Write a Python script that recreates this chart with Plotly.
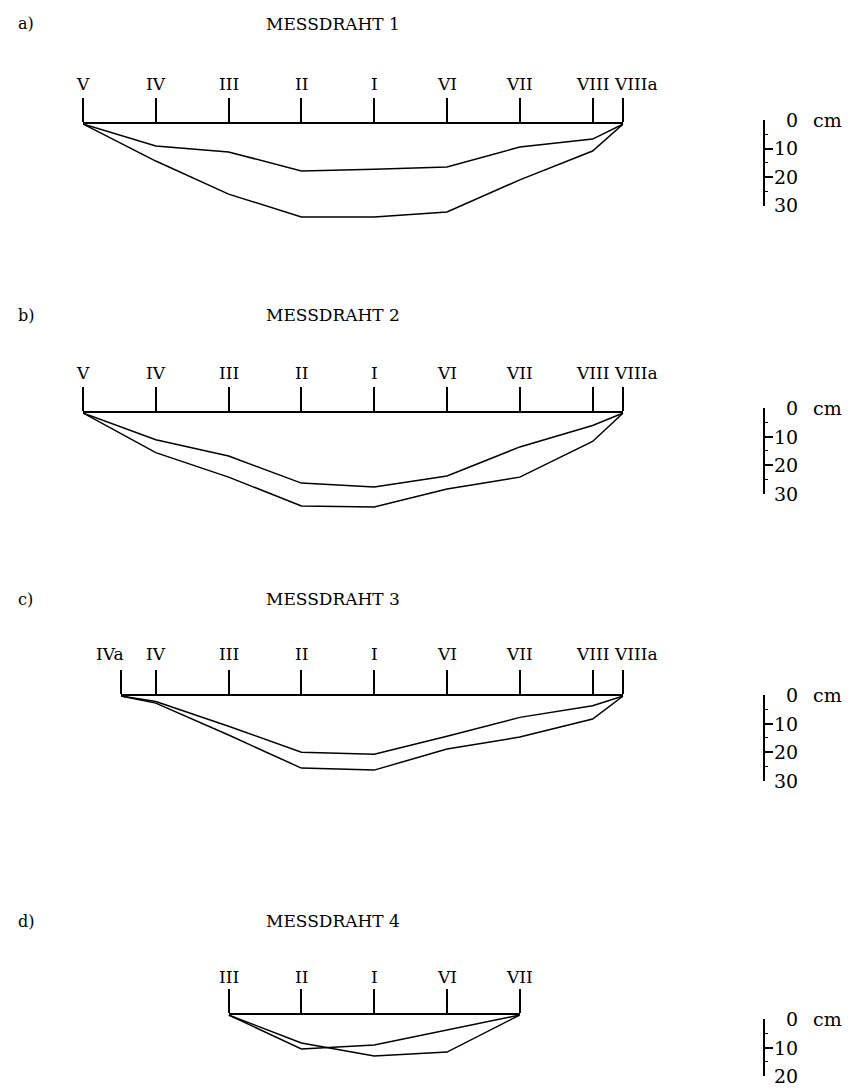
import plotly.graph_objects as go

# ---------------- data ----------------
titles = ["MESSDRAHT 1", "MESSDRAHT 2", "MESSDRAHT 3", "MESSDRAHT 4"]
panel_tags = ["a)", "b)", "c)", "d)"]

stations_a = ["V", "IV", "III", "II", "I", "VI", "VII", "VIII", "VIIIa"]
pos_a = [0, 1, 2, 3, 4, 5, 6, 7, 7.42]
sag_a_1 = [0, 7.7, 9.8, 16.5, 15.9, 15.1, 8.1, 5.3, 0]
sag_a_2 = [0, 13.0, 24.6, 32.6, 32.6, 30.9, 19.6, 9.5, 0]

stations_b = ["V", "IV", "III", "II", "I", "VI", "VII", "VIII", "VIIIa"]
pos_b = [0, 1, 2, 3, 4, 5, 6, 7, 7.42]
sag_b_1 = [0, 9.4, 15.1, 24.6, 26.0, 22.1, 11.9, 4.4, 0]
sag_b_2 = [0, 13.9, 22.5, 32.6, 33.0, 26.7, 22.5, 10.0, 0]

stations_c = ["IVa", "IV", "III", "II", "I", "VI", "VII", "VIII", "VIIIa"]
pos_c = [0.52, 1, 2, 3, 4, 5, 6, 7, 7.42]
sag_c_1 = [0, 1.9, 10.6, 19.7, 20.4, 14.1, 7.5, 3.4, 0]
sag_c_2 = [0, 2.5, 13.7, 25.3, 26.0, 18.6, 14.4, 8.1, 0]

stations_d = ["III", "II", "I", "VI", "VII"]
pos_d = [2, 3, 4, 5, 6]
sag_d_1 = [0, 11.9, 10.5, 5.3, 0]
sag_d_2 = [0, 9.8, 14.4, 13.0, 0]

scale_ticks_abc = [0, 10, 20, 30]
scale_ticks_d = [0, 10, 20]

# ---------------- layout constants ----------------
W, H = 857, 1092
X0 = 75          # px of position 0
SP = 72.8        # px per station unit
PXCM = 2.85      # px per cm of sag
FONT = "DejaVu Serif"
BAR_X = 757

panels = [
    dict(st=stations_a, pos=pos_a, s1=sag_a_1, s2=sag_a_2, wire=116, title=16, lab=76, scale_top=112, ticks=scale_ticks_abc, dmax=36),
    dict(st=stations_b, pos=pos_b, s1=sag_b_1, s2=sag_b_2, wire=405, title=307, lab=365, scale_top=400, ticks=scale_ticks_abc, dmax=36),
    dict(st=stations_c, pos=pos_c, s1=sag_c_1, s2=sag_c_2, wire=688, title=591, lab=646, scale_top=687, ticks=scale_ticks_abc, dmax=30),
    dict(st=stations_d, pos=pos_d, s1=sag_d_1, s2=sag_d_2, wire=1007, title=913, lab=969, scale_top=1011, ticks=scale_ticks_d, dmax=18),
]

fig = go.Figure()
annotations = []
layout = dict(
    width=W, height=H, margin=dict(l=0, r=0, t=0, b=0),
    paper_bgcolor="white", plot_bgcolor="rgba(0,0,0,0)",
    showlegend=False, font=dict(family=FONT, size=16, color="black"),
)

def py(px):
    return 1 - px / H

for k, p in enumerate(panels):
    i = k + 1
    xa = "x" if i == 1 else f"x{i}"
    ya = "y" if i == 1 else f"y{i}"
    xkey = "xaxis" if i == 1 else f"xaxis{i}"
    ykey = "yaxis" if i == 1 else f"yaxis{i}"
    p0, p1 = p["pos"][0], p["pos"][-1]
    for s in (p["s1"], p["s2"]):
        fig.add_trace(go.Scatter(x=p["pos"], y=s, mode="lines", xaxis=xa, yaxis=ya,
                                 line=dict(color="black", width=1.5), hoverinfo="skip",
                                 cliponaxis=False))
    layout[xkey] = dict(domain=[(X0 + p0 * SP) / W, (X0 + p1 * SP) / W], range=[p0, p1],
                        side="top", anchor=ya, showline=True, linecolor="black", linewidth=1.5,
                        ticks="outside", ticklen=24, tickwidth=1.5, tickcolor="black",
                        tickvals=p["pos"], showticklabels=False, showgrid=False,
                        zeroline=False, fixedrange=True)
    layout[ykey] = dict(domain=[py(p["wire"] + p["dmax"] * PXCM), py(p["wire"])],
                        range=[p["dmax"], 0], anchor=xa, visible=False, fixedrange=True)
    # station labels
    for name, x in zip(p["st"], p["pos"]):
        xanchor, xshift = "center", 0
        if name == "VIIIa":
            xanchor, xshift = "left", -11
        if name == "IVa":
            xanchor, xshift = "right", 5
        annotations.append(dict(text=name, x=x, xref=xa, y=py(p["lab"]), yref="paper",
                                xanchor=xanchor, yanchor="middle", xshift=xshift,
                                showarrow=False, font=dict(size=17)))
    # titles
    annotations.append(dict(text=panel_tags[k], x=8 / W, xref="paper", y=py(p["title"]),
                            yref="paper", xanchor="left", yanchor="middle", showarrow=False,
                            font=dict(size=16)))
    annotations.append(dict(text=titles[k], x=256 / W, xref="paper", y=py(p["title"]),
                            yref="paper", xanchor="left", yanchor="middle", showarrow=False,
                            font=dict(size=17)))
    # scale bar axis
    j = i + 4
    sx = f"x{j}"
    sy = f"y{j}"
    smax = p["ticks"][-1]
    fig.add_trace(go.Scatter(x=[0, 0], y=[0, smax], mode="lines", xaxis=sx, yaxis=sy,
                             line=dict(width=0, color="rgba(0,0,0,0)"), hoverinfo="skip"))
    layout[f"xaxis{j}"] = dict(domain=[BAR_X / W, (BAR_X + 40) / W], anchor=sy, visible=False,
                               range=[0, 1], fixedrange=True)
    layout[f"yaxis{j}"] = dict(domain=[py(p["scale_top"] + smax * PXCM), py(p["scale_top"])],
                               range=[smax, 0], anchor=sx, side="left", showline=True,
                               linecolor="black", linewidth=1.5, ticks="inside", ticklen=8,
                               tickwidth=1.5, tickcolor="black", tickvals=p["ticks"],
                               showticklabels=False, showgrid=False, zeroline=False,
                               minor=dict(ticks="inside", ticklen=3, tickwidth=1.3,
                                          tickcolor="black", dtick=5, showgrid=False),
                               fixedrange=True)
    for v in p["ticks"]:
        annotations.append(dict(text=str(v), x=(BAR_X + 35) / W, xref="paper", y=v, yref=sy,
                                xanchor="right", yanchor="middle", showarrow=False,
                                font=dict(size=19)))
    annotations.append(dict(text="cm", x=(BAR_X + 46) / W, xref="paper", y=0, yref=sy,
                            xanchor="left", yanchor="middle", showarrow=False,
                            font=dict(size=19)))

layout["annotations"] = annotations
fig.update_layout(**layout)
fig.write_html("out.html")
